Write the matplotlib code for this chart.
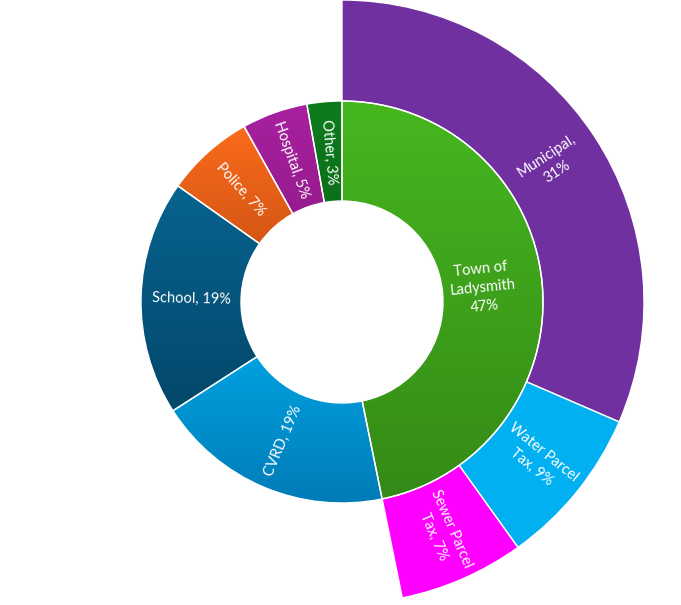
import numpy as np
import matplotlib.pyplot as plt
from matplotlib.patches import Wedge
from matplotlib.colors import to_rgb

# inner ring: who gets the tax (shares)
inner_labels = ["Town of\nLadysmith\n47%", "CVRD, 19%", "School, 19%", "Police, 7%", "Hospital, 5%", "Other, 3%"]
inner_values = [46.8, 19.1, 18.9, 7.1, 5.3, 2.8]
inner_top = ["#46b71f", "#00aeef", "#07638f", "#fa6b1c", "#a8209f", "#0e7c1e"]
inner_bottom = ["#358a17", "#007bb6", "#03476a", "#c24c10", "#881880", "#0a6316"]

# outer ring: split of Town of Ladysmith
outer_labels = ["Municipal,\n31%", "Water Parcel\nTax, 9%", "Sewer Parcel\nTax, 7%"]
outer_values = [31.5, 8.6, 6.7]
outer_colors = ["#7030a0", "#00b0f0", "#ff00ff"]

R_HOLE, R_MID, R_OUT = 101, 201, 302
CX, CY = 342, 303

plt.rcParams['font.family'] = ['Lato', 'DejaVu Sans']

fig = plt.figure(figsize=(6.81, 6.05), dpi=100)
ax = fig.add_axes([0, 0, 1, 1])
ax.set_xlim(-CX, 681 - CX)
ax.set_ylim(-CY, 605 - CY)
ax.set_aspect('equal')
ax.axis('off')


def gradient_wedge(r, t1, t2, width, top, bottom):
    w = Wedge((0, 0), r, t1, t2, width=width, facecolor='none', edgecolor='none')
    ax.add_patch(w)
    verts = w.get_path().vertices
    x0, x1 = verts[:, 0].min(), verts[:, 0].max()
    y0, y1 = verts[:, 1].min(), verts[:, 1].max()
    c1, c2 = np.array(to_rgb(top)), np.array(to_rgb(bottom))
    t = np.linspace(0, 1, 128)[:, None, None]
    img = c1 * (1 - t) + c2 * t
    im = ax.imshow(img, extent=(x0, x1, y0, y1), origin='upper', aspect='auto',
                   interpolation='bilinear', zorder=1)
    im.set_clip_path(w)
    ax.add_patch(Wedge((0, 0), r, t1, t2, width=width, facecolor='none',
                       edgecolor='white', linewidth=1.0, zorder=3))


def label(text, r, ang, size=10.5):
    rot = ang
    if ang > 90 or ang < -90:
        rot = ang - 180 if ang > 90 else ang + 180
    a = np.radians(ang)
    ax.text(r * np.cos(a), r * np.sin(a), text, rotation=rot, rotation_mode='anchor',
            ha='center', va='center', color='white', fontsize=size,
            multialignment='center', linespacing=1.45, zorder=4)


# inner ring, clockwise from 12 o'clock
start = 90.0
for lab, v, top, bot in zip(inner_labels, inner_values, inner_top, inner_bottom):
    end = start - v * 3.6
    gradient_wedge(R_MID, end, start, R_MID - R_HOLE, top, bot)
    mid = (start + end) / 2
    r = 141 if v > 40 else (R_HOLE + R_MID) / 2
    label(lab, r, mid)
    start = end

# outer ring
start = 90.0
for lab, v, col in zip(outer_labels, outer_values, outer_colors):
    end = start - v * 3.6
    ax.add_patch(Wedge((0, 0), R_OUT, end, start, width=R_OUT - R_MID, facecolor=col,
                       edgecolor='white', linewidth=1.0, zorder=2))
    mid = (start + end) / 2
    label(lab, (R_MID + R_OUT) / 2, mid)
    start = end

fig.savefig("out.png", dpi=100)
